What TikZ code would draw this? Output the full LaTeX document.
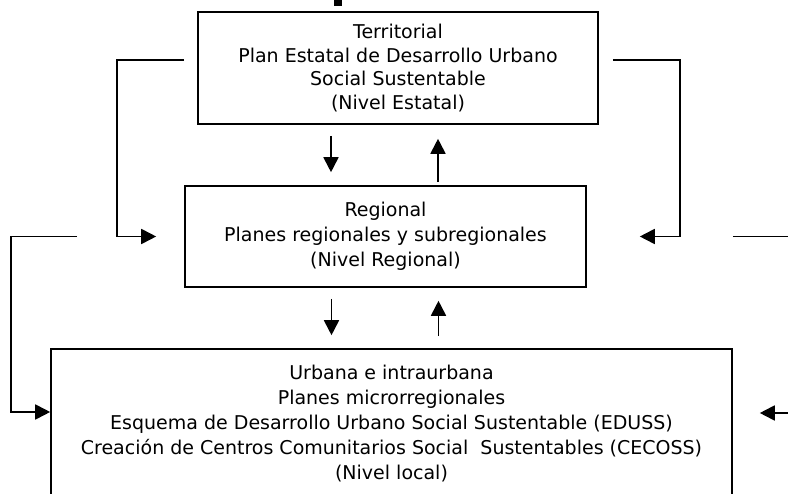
\documentclass[tikz,border=0pt]{standalone}
\usepackage{fontspec}
\setmainfont{DejaVu Sans}
\usetikzlibrary{arrows.meta}

\begin{document}
\begin{tikzpicture}[x=1pt, y=-1pt,
    line width=1.8pt,
    >={Triangle[length=15pt,width=15pt]},
  box/.style = {rectangle, draw, align=center, inner sep=0pt,% level boxes
                line width=1.6pt, font=\fontsize{19}{25}\selectfont},
                        ]
\useasboundingbox (0,0) rectangle (788,494);
\clip (0,0) rectangle (788,494);
\fill (334,0) rectangle (342,6);% rest of the cut off title
\node (terr) [box, minimum width=400pt, minimum height=112pt,
              font=\fontsize{19}{23.5}\selectfont] at (398,68)
    {Territorial\\ Plan Estatal de Desarrollo Urbano\\ Social Sustentable\\ (Nivel Estatal)};
\node (reg) [box, minimum width=401pt, minimum height=101pt] at (385.5,236.5)
    {Regional\\ Planes regionales y subregionales\\ (Nivel Regional)};
\node (urb) [box, minimum width=681pt, minimum height=150pt] at (391.5,424)
    {Urbana e intraurbana\\ Planes microrregionales\\
     Esquema de Desarrollo Urbano Social Sustentable (EDUSS)\\
     Creación de Centros Comunitarios Social~ Sustentables (CECOSS)\\
     (Nivel local)};
% up and down between levels
\draw[->] ([shift={(-67,11)}]terr.south) -- ([shift={(-54.5,-13)}]reg.north);
\draw[->] ([shift={(52.5,-3)}]reg.north) -- ([shift={(40,14)}]terr.south);
\draw[->] ([shift={(-54,11)}]reg.south) -- ([shift={(-60,-13)}]urb.north);
\draw[->] ([shift={(47,-12)}]urb.north) -- ([shift={(53,13)}]reg.south);
% side loops
\draw[->] ([shift={(-13,-8)}]terr.west) -- ++(-67,0) |- ([xshift=-28]reg.west);
\draw[->] ([shift={(14,-8)}]terr.east) -- ++(67,0) |- ([xshift=53]reg.east);
\draw[->] ([xshift=-107]reg.west) -- ++(-66,0) |- ([yshift=12]urb.west);
\draw[->] ([xshift=146]reg.east) -- ++(70,0) |- ([shift={(27,-11)}]urb.east);
\end{tikzpicture}
\end{document}
